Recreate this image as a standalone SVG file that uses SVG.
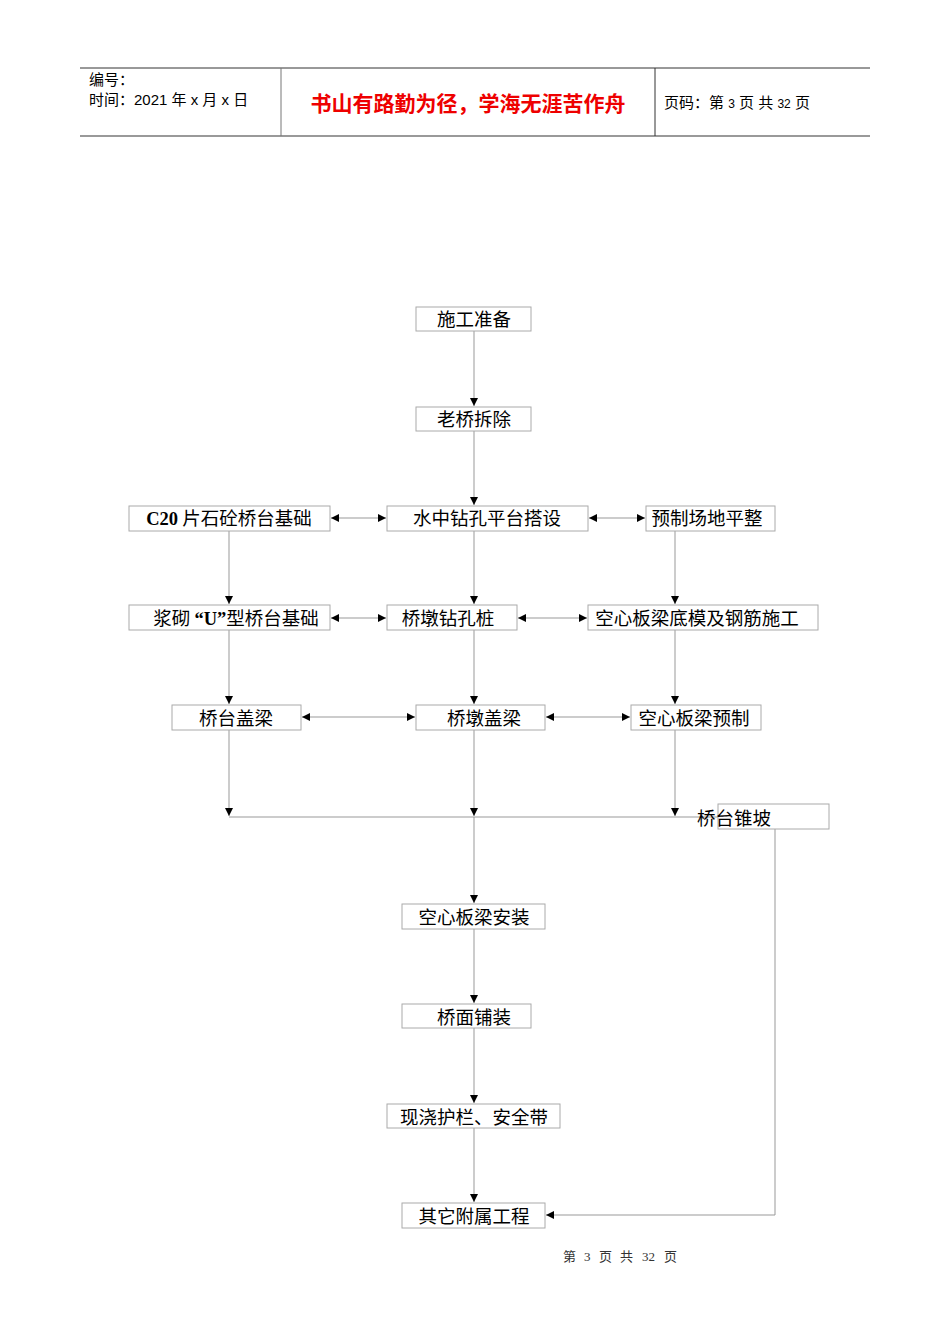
<svg xmlns="http://www.w3.org/2000/svg" width="950" height="1344" viewBox="0 0 950 1344">
<style>
.b{fill:#fff;stroke:#aaa;stroke-width:1}
.t{font-family:"Noto Sans CJK SC","Liberation Serif",serif;font-size:18.5px;fill:#000}
.t2{font-family:"Liberation Serif","Noto Sans CJK SC",serif;font-size:18.5px;fill:#000;font-weight:bold}
.c line,.c polyline{stroke:#999;stroke-width:1;fill:none}
.h{font-family:"Liberation Sans","Noto Sans CJK SC",sans-serif;font-size:15px;fill:#000}
</style>
<defs>
<marker id="a" viewBox="0 0 10 10" refX="10" refY="5" markerWidth="8" markerHeight="8" orient="auto-start-reverse" markerUnits="userSpaceOnUse"><path d="M0,0L10,5L0,10z" fill="#000"/></marker>
</defs>
<g id="header">
<line x1="80" y1="68" x2="870" y2="68" stroke="#333"/>
<line x1="80" y1="136" x2="870" y2="136" stroke="#777" stroke-width="1.5"/>
<line x1="281" y1="68" x2="281" y2="136" stroke="#777"/>
<line x1="655" y1="68" x2="655" y2="136" stroke="#333"/>
<text class="h" x="89" y="85">编号：</text>
<text class="h" x="89" y="105">时间：2021 年 x 月 x 日</text>
<text x="468" y="111" text-anchor="middle" style="font-family:'Noto Sans CJK SC',sans-serif;font-size:21px;fill:#e00;font-weight:bold">书山有路勤为径，学海无涯苦作舟</text>
<text class="h" x="664" y="108">页码：第 <tspan font-size="12">3</tspan> 页  共 <tspan font-size="12">32</tspan> 页</text>
</g>
<g class="c" id="connectors">
<line x1="474" y1="331" x2="474" y2="406" marker-end="url(#a)"/>
<line x1="474" y1="431" x2="474" y2="505" marker-end="url(#a)"/>
<line x1="331" y1="518" x2="386" y2="518" marker-start="url(#a)" marker-end="url(#a)"/>
<line x1="589" y1="518" x2="645" y2="518" marker-start="url(#a)" marker-end="url(#a)"/>
<line x1="229" y1="531" x2="229" y2="604" marker-end="url(#a)"/>
<line x1="474" y1="531" x2="474" y2="604" marker-end="url(#a)"/>
<line x1="675" y1="531" x2="675" y2="604" marker-end="url(#a)"/>
<line x1="331" y1="618" x2="386" y2="618" marker-start="url(#a)" marker-end="url(#a)"/>
<line x1="518" y1="618" x2="587" y2="618" marker-start="url(#a)" marker-end="url(#a)"/>
<line x1="229" y1="630" x2="229" y2="704" marker-end="url(#a)"/>
<line x1="474" y1="630" x2="474" y2="704" marker-end="url(#a)"/>
<line x1="675" y1="630" x2="675" y2="704" marker-end="url(#a)"/>
<line x1="302" y1="717" x2="415" y2="717" marker-start="url(#a)" marker-end="url(#a)"/>
<line x1="546" y1="717" x2="630" y2="717" marker-start="url(#a)" marker-end="url(#a)"/>
<line x1="229" y1="730" x2="229" y2="816" marker-end="url(#a)"/>
<line x1="474" y1="730" x2="474" y2="816" marker-end="url(#a)"/>
<line x1="675" y1="730" x2="675" y2="816" marker-end="url(#a)"/>
<line x1="229" y1="817" x2="718" y2="817"/>
<line x1="474" y1="817" x2="474" y2="903" marker-end="url(#a)"/>
<line x1="474" y1="929" x2="474" y2="1003" marker-end="url(#a)"/>
<line x1="474" y1="1028" x2="474" y2="1103" marker-end="url(#a)"/>
<line x1="474" y1="1128" x2="474" y2="1202" marker-end="url(#a)"/>
<polyline points="775,829 775,1215 546,1215" marker-end="url(#a)"/>
</g>
<g id="n1"><rect class="b" x="416" y="307" width="115" height="24"/><text class="t" x="474" y="326" text-anchor="middle">施工准备</text></g>
<g id="n2"><rect class="b" x="416" y="407" width="115" height="24"/><text class="t" x="474" y="426" text-anchor="middle">老桥拆除</text></g>
<g id="n3"><rect class="b" x="129" y="506" width="201" height="25"/><text class="t" x="229" y="525" text-anchor="middle"><tspan class="t2">C20</tspan> 片石砼桥台基础</text></g>
<g id="n4"><rect class="b" x="387" y="506" width="201" height="25"/><text class="t" x="487" y="525" text-anchor="middle">水中钻孔平台搭设</text></g>
<g id="n5"><rect class="b" x="646" y="506" width="129" height="25"/><text class="t" x="707" y="525" text-anchor="middle">预制场地平整</text></g>
<g id="n6"><rect class="b" x="129" y="605" width="201" height="25"/><text class="t" x="236" y="625" text-anchor="middle">浆砌 <tspan class="t2">“U”</tspan>型桥台基础</text></g>
<g id="n7"><rect class="b" x="387" y="605" width="130" height="25"/><text class="t" x="448" y="625" text-anchor="middle">桥墩钻孔桩</text></g>
<g id="n8"><rect class="b" x="588" y="605" width="230" height="25"/><text class="t" x="697" y="625" text-anchor="middle">空心板梁底模及钢筋施工</text></g>
<g id="n9"><rect class="b" x="172" y="705" width="129" height="25"/><text class="t" x="236" y="725" text-anchor="middle">桥台盖梁</text></g>
<g id="n10"><rect class="b" x="416" y="705" width="129" height="25"/><text class="t" x="484" y="725" text-anchor="middle">桥墩盖梁</text></g>
<g id="n11"><rect class="b" x="631" y="705" width="130" height="25"/><text class="t" x="694" y="725" text-anchor="middle">空心板梁预制</text></g>
<g id="n12"><rect class="b" x="718" y="804" width="111" height="25"/><text class="t" x="697" y="825">桥台锥坡</text></g>
<g id="n13"><rect class="b" x="402" y="904" width="143" height="25"/><text class="t" x="474" y="924" text-anchor="middle">空心板梁安装</text></g>
<g id="n14"><rect class="b" x="402" y="1004" width="129" height="24"/><text class="t" x="474" y="1024" text-anchor="middle">桥面铺装</text></g>
<g id="n15"><rect class="b" x="387" y="1104" width="173" height="24"/><text class="t" x="474" y="1124" text-anchor="middle">现浇护栏、安全带</text></g>
<g id="n16"><rect class="b" x="402" y="1203" width="143" height="25"/><text class="t" x="474" y="1223" text-anchor="middle">其它附属工程</text></g>
<text y="1261" style="font-family:'Liberation Serif','Noto Sans CJK SC',serif;font-size:13px;fill:#333"><tspan x="563">第</tspan><tspan x="584">3</tspan><tspan x="599">页</tspan><tspan x="620">共</tspan><tspan x="642">32</tspan><tspan x="664">页</tspan></text>
</svg>
